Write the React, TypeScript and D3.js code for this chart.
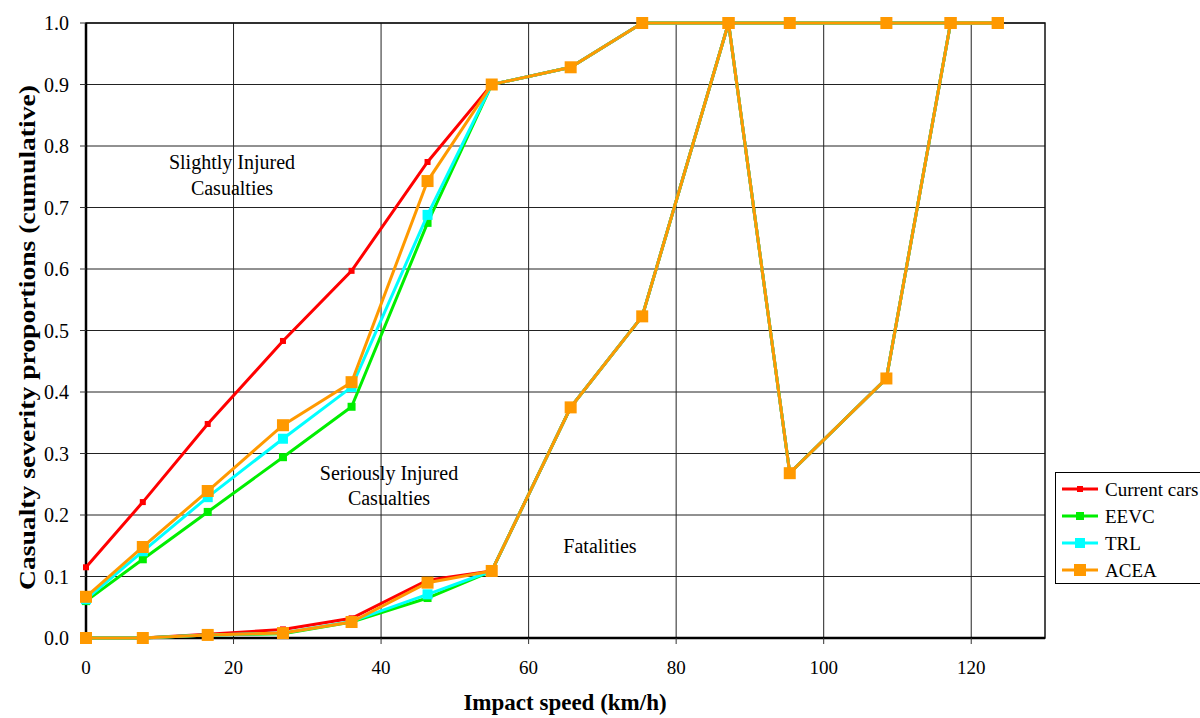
import * as d3 from "d3";
import React from "react";

// impact speed (km/h) of each data point
const speeds = [0, 7.7, 16.5, 26.7, 36, 46.3, 55, 65.7, 75.4, 87.1, 95.4, 108.5, 117.2, 123.6];

// upper boundary: slight / serious, lower boundary: serious / fatal
const currentUpper = [0.115, 0.221, 0.348, 0.483, 0.597, 0.774, 0.9, 0.928, 1, 1, 1, 1, 1, 1];
const currentLower = [0, 0, 0.006, 0.014, 0.032, 0.094, 0.109, 0.375, 0.523, 1, 0.268, 0.422, 1, 1];
const eevcUpper = [0.06, 0.128, 0.205, 0.294, 0.376, 0.675, 0.9, 0.928, 1, 1, 1, 1, 1, 1];
const eevcLower = [0, 0, 0.005, 0.007, 0.026, 0.065, 0.109, 0.375, 0.523, 1, 0.268, 0.422, 1, 1];
const trlUpper = [0.063, 0.141, 0.229, 0.324, 0.408, 0.688, 0.9, 0.928, 1, 1, 1, 1, 1, 1];
const trlLower = [0, 0, 0.005, 0.008, 0.027, 0.071, 0.109, 0.375, 0.523, 1, 0.268, 0.422, 1, 1];
const aceaUpper = [0.067, 0.148, 0.239, 0.346, 0.416, 0.743, 0.9, 0.928, 1, 1, 1, 1, 1, 1];
const aceaLower = [0, 0, 0.005, 0.008, 0.026, 0.09, 0.109, 0.375, 0.523, 1, 0.268, 0.422, 1, 1];

const xTicks = [0, 20, 40, 60, 80, 100, 120];
const yTicks = [0, 0.1, 0.2, 0.3, 0.4, 0.5, 0.6, 0.7, 0.8, 0.9, 1.0];

const series = [
  { name: "Current cars", color: "#ff0000", size: 6, upper: currentUpper, lower: currentLower },
  { name: "EEVC", color: "#00ee00", size: 8, upper: eevcUpper, lower: eevcLower },
  { name: "TRL", color: "#00ffff", size: 10, upper: trlUpper, lower: trlLower },
  { name: "ACEA", color: "#ff9900", size: 12, upper: aceaUpper, lower: aceaLower },
];

const W = 1200;
const H = 718;
const margin = { left: 86, right: 155, top: 23, bottom: 80 };
const font = "'Liberation Serif', 'Times New Roman', serif";

export default function App() {
  const x = d3.scaleLinear().domain([0, 130]).range([margin.left, W - margin.right]);
  const y = d3.scaleLinear().domain([0, 1]).range([H - margin.bottom, margin.top]);
  const line = d3
    .line<number>()
    .x((_, i) => x(speeds[i]))
    .y((d) => y(d));

  const x0 = x(0);
  const x1 = x(130);
  const y0 = y(0);
  const y1 = y(1);

  return (
    <svg
      width={W}
      height={H}
      style={{ position: "absolute", left: 0, top: 0, background: "#fff", fontFamily: font }}
    >
      {/* grid */}
      <g stroke="#222" strokeWidth={1}>
        {yTicks.slice(1).map((t) => (
          <line key={"gy" + t} x1={x0} x2={x1} y1={y(t)} y2={y(t)} />
        ))}
        {xTicks.slice(1).map((t) => (
          <line key={"gx" + t} x1={x(t)} x2={x(t)} y1={y0} y2={y1} />
        ))}
      </g>
      <rect x={x0} y={y1} width={x1 - x0} height={y0 - y1} fill="none" stroke="#111" strokeWidth={1.5} />
      <line x1={x0} x2={x0} y1={y1} y2={y0} stroke="#000" strokeWidth={2.5} />
      <line x1={x0} x2={x1} y1={y0} y2={y0} stroke="#000" strokeWidth={2.5} />

      {/* ticks */}
      <g stroke="#333" strokeWidth={1}>
        {yTicks.map((t) => (
          <line key={"ty" + t} x1={x0 - 6} x2={x0} y1={y(t)} y2={y(t)} />
        ))}
        {xTicks.map((t) => (
          <line key={"tx" + t} x1={x(t)} x2={x(t)} y1={y0} y2={y0 + 6} />
        ))}
      </g>
      <g fill="#000" fontFamily={font}>
        {yTicks.map((t) => (
          <text key={"ly" + t} x={x0 - 17} y={y(t)} dy="0.35em" textAnchor="end" fontSize={20}>
            {t.toFixed(1)}
          </text>
        ))}
        {xTicks.map((t) => (
          <text key={"lx" + t} x={x(t)} y={y0 + 29} dy="0.35em" textAnchor="middle" fontSize={19}>
            {t}
          </text>
        ))}
      </g>

      <text x={565} y={702} dy="0.35em" textAnchor="middle" fontSize={23} fontWeight="bold">
        Impact speed (km/h)
      </text>
      <text
        transform={`translate(27,${(y0 + y1) / 2 + 7}) rotate(-90)`}
        dy="0.35em"
        textAnchor="middle"
        fontSize={23}
        fontWeight="bold"
        textLength={505}
        lengthAdjust="spacingAndGlyphs"
      >
        Casualty severity proportions (cumulative)
      </text>

      {/* annotations */}
      <g fontSize={20} textAnchor="middle">
        <text x={232} y={162} dy="0.35em">Slightly Injured</text>
        <text x={232} y={188} dy="0.35em">Casualties</text>
        <text x={389} y={473} dy="0.35em">Seriously Injured</text>
        <text x={389} y={498} dy="0.35em">Casualties</text>
        <text x={600} y={546} dy="0.35em">Fatalities</text>
      </g>

      {/* series */}
      {series.map((s) => (
        <g key={s.name}>
          {[s.upper, s.lower].map((vals, k) => (
            <g key={k}>
              <path d={line(vals) || ""} fill="none" stroke={s.color} strokeWidth={3} />
              {vals.map((v, i) => (
                <rect
                  key={i}
                  x={x(speeds[i]) - s.size / 2}
                  y={y(v) - s.size / 2}
                  width={s.size}
                  height={s.size}
                  fill={s.color}
                />
              ))}
            </g>
          ))}
        </g>
      ))}

      {/* legend */}
      <rect x={1055.5} y={472.5} width={160} height={111} fill="#fff" stroke="#000" strokeWidth={1} />
      {series.map((s, i) => {
        const ly = 489 + i * 27;
        return (
          <g key={"lg" + s.name}>
            <line x1={1062} x2={1098} y1={ly} y2={ly} stroke={s.color} strokeWidth={3} />
            <rect x={1080 - s.size / 2} y={ly - s.size / 2} width={s.size} height={s.size} fill={s.color} />
            <text x={1105} y={ly} dy="0.35em" fontSize={19}>
              {s.name}
            </text>
          </g>
        );
      })}
    </svg>
  );
}
